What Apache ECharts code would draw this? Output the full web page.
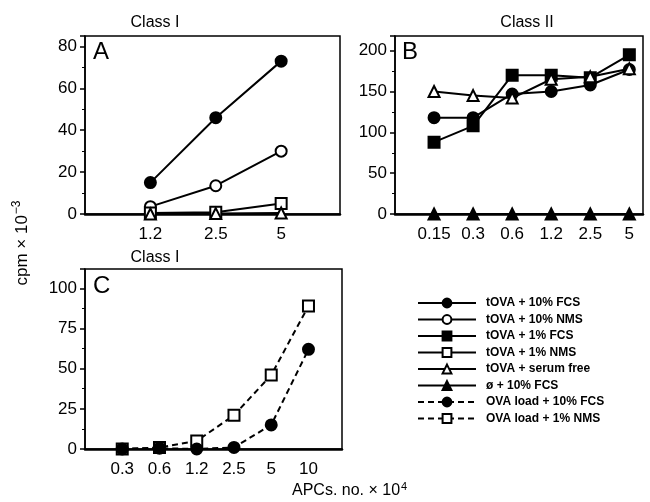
<!DOCTYPE html>
<html>
<head>
<meta charset="utf-8">
<script src="https://cdn.jsdelivr.net/npm/echarts@6/dist/echarts.min.js"></script>
<style>
  html, body { margin: 0; padding: 0; background: #fff; }
  #main { width: 650px; height: 502px; }
</style>
</head>
<body>
<div id="main"></div>
<script>
// tick labels for the three panels
var labelsA = ['1.2', '2.5', '5'];
var labelsB = ['0.15', '0.3', '0.6', '1.2', '2.5', '5'];
var labelsC = ['0.3', '0.6', '1.2', '2.5', '5', '10'];

// panel A, class I (cpm x 10^-3)
var aFcs10 = [15, 46, 73];
var aNms10 = [3.5, 13.5, 30];
var aNms1 = [0.5, 0.8, 5];
var aFree = [0, 0.2, 0.5];

// panel B, class II
var bFcs10 = [118, 118, 147, 150, 158, 177];
var bFcs1 = [88, 108, 170, 170, 167, 195];
var bFree = [150, 145, 142, 165, 168, 178];
var bNone = [0, 0, 0, 0, 0, 0];

// panel C, class I, OVA load
var cFcs10 = [0, 0.5, 0, 1, 15, 62];
var cNms1 = [0, 1, 5, 21, 46, 89];

var names = ['tOVA + 10% FCS', 'tOVA + 10% NMS', 'tOVA + 1% FCS', 'tOVA + 1% NMS',
  'tOVA + serum free', 'ø + 10% FCS', 'OVA load + 10% FCS', 'OVA load + 1% NMS'];

var FONT = '"Liberation Sans", Arial, sans-serif';

function pts(arr) {
  return arr.map(function (v, i) { return [i + 1, v]; });
}

function mkSeries(name, arr, idx, symbol, filled, dashed) {
  return {
    name: name,
    type: 'line',
    xAxisIndex: idx,
    yAxisIndex: idx,
    data: pts(arr),
    symbol: symbol,
    symbolSize: 11,
    showAllSymbol: true,
    animation: false,
    lineStyle: { color: '#000', width: 2, type: dashed ? [6, 4] : 'solid' },
    itemStyle: { color: filled ? '#000' : '#fff', borderColor: '#000', borderWidth: 2 },
    emphasis: { disabled: true }
  };
}

function xAx(idx, labels, max) {
  return {
    type: 'value', gridIndex: idx, min: 0, max: max, interval: 1,
    axisLine: { onZero: false, lineStyle: { color: '#000', width: 2.5 } },
    axisTick: { show: false },
    splitLine: { show: false },
    axisLabel: {
      showMaxLabel: false, color: '#000', fontSize: 17, fontFamily: FONT, margin: 12,
      formatter: function (v) { return labels[v - 1] || ''; }
    }
  };
}

function yAx(idx, max, interval) {
  return {
    type: 'value', gridIndex: idx, min: 0, max: max, interval: interval,
    axisLine: { show: true, lineStyle: { color: '#000', width: 1.5 } },
    axisTick: { show: true, length: 5, lineStyle: { color: '#000', width: 1.5 } },
    minorTick: { show: true, splitNumber: 2, length: 3, lineStyle: { color: '#000' } },
    splitLine: { show: false },
    axisLabel: { showMaxLabel: false, color: '#000', fontSize: 17, fontFamily: FONT, margin: 8 }
  };
}

var gridBase = { show: true, borderColor: '#000', borderWidth: 1.5, backgroundColor: 'transparent' };
var titleStyle = { fontSize: 16, fontWeight: 'normal', fontFamily: FONT, color: '#000' };

var option = {
  backgroundColor: '#fff',
  animation: false,
  grid: [
    Object.assign({ left: 85, top: 36, width: 255, height: 178 }, gridBase),
    Object.assign({ left: 395, top: 36, width: 248, height: 178 }, gridBase),
    Object.assign({ left: 85, top: 269, width: 257, height: 180 }, gridBase)
  ],
  xAxis: [xAx(0, labelsA, 3.9), xAx(1, labelsB, 6.35), xAx(2, labelsC, 6.9)],
  yAxis: [yAx(0, 85, 20), yAx(1, 218, 50), yAx(2, 112, 25)],
  legend: {
    orient: 'vertical',
    left: 412, top: 292,
    itemWidth: 58, itemHeight: 11, itemGap: 4.5,
    data: names,
    selectedMode: false,
    textStyle: { color: '#000', fontSize: 12, fontWeight: 'bold', fontFamily: FONT, padding: [0, 0, 0, 5] }
  },
  title: [
    { text: 'Class I', left: 150, top: 10, textAlign: 'center', textStyle: titleStyle },
    { text: 'Class II', left: 522, top: 10, textAlign: 'center', textStyle: titleStyle },
    { text: 'Class I', left: 150, top: 245, textAlign: 'center', textStyle: titleStyle }
  ],
  graphic: [
    { type: 'text', left: 93, top: 40, style: { text: 'A', fontSize: 24, fontFamily: FONT, fill: '#000' } },
    { type: 'text', left: 402, top: 40, style: { text: 'B', fontSize: 24, fontFamily: FONT, fill: '#000' } },
    { type: 'text', left: 93, top: 274, style: { text: 'C', fontSize: 24, fontFamily: FONT, fill: '#000' } },
    {
      type: 'text', x: 22, y: 243, rotation: Math.PI / 2,
      style: {
        text: '{a|cpm × 10}{s|−3}', align: 'center', verticalAlign: 'middle',
        rich: {
          a: { fontSize: 17, fontFamily: FONT, fill: '#000' },
          s: { fontSize: 12, fontFamily: FONT, fill: '#000', padding: [0, 0, 10, 1] }
        }
      }
    },
    {
      type: 'text', left: 292, top: 481,
      style: {
        text: '{a|APCs. no. × 10}{s|4}',
        rich: {
          a: { fontSize: 16, fontFamily: FONT, fill: '#000' },
          s: { fontSize: 11, fontFamily: FONT, fill: '#000', padding: [0, 0, 9, 1] }
        }
      }
    }
  ],
  series: [
    mkSeries(names[0], aFcs10, 0, 'circle', true, false),
    mkSeries(names[1], aNms10, 0, 'circle', false, false),
    mkSeries(names[3], aNms1, 0, 'rect', false, false),
    mkSeries(names[4], aFree, 0, 'triangle', false, false),
    mkSeries(names[0], bFcs10, 1, 'circle', true, false),
    mkSeries(names[2], bFcs1, 1, 'rect', true, false),
    mkSeries(names[4], bFree, 1, 'triangle', false, false),
    mkSeries(names[5], bNone, 1, 'triangle', true, false),
    mkSeries(names[7], cNms1, 2, 'rect', false, true),
    mkSeries(names[6], cFcs10, 2, 'circle', true, true)
  ]
};

var chart = echarts.init(document.getElementById('main'), null, { renderer: 'canvas' });
chart.setOption(option);
</script>
</body>
</html>
